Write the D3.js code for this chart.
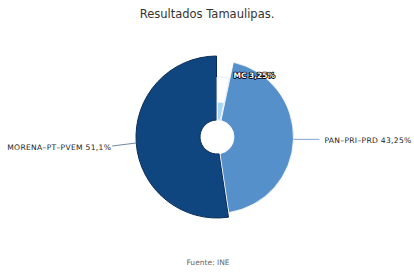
<!DOCTYPE html>
<html><head><meta charset="utf-8">
<script src="https://cdn.jsdelivr.net/npm/d3@7"></script>
<style>body{margin:0;background:#fff}svg{display:block}</style>
</head><body>
<script>
const categories = ["MC", "PAN-PRI-PRD", "MORENA-PT-PVEM"];
const labels = ["MC 3,25%", "PAN–PRI–PRD 43,25%", "MORENA–PT–PVEM 51,1%"];
const values = [3.25, 43.25, 51.1];
const radiusWeight = [35, 76.5, 81];
const colors = ["#a9d4f4", "#5590cb", "#0f467f"];
const title = "Resultados Tamaulipas.";
const source = "Fuente: INE";

const W = 414, H = 276, cx = 217, cy = 137;
const svg = d3.select("body").append("svg").attr("width", W).attr("height", H)
  .style("font-family", "'DejaVu Sans', Verdana, sans-serif");

svg.append("text").attr("x", 207).attr("y", 18).attr("text-anchor", "middle")
  .attr("font-size", 11.5).attr("fill", "#333").text(title);
svg.append("text").attr("x", 208).attr("y", 265).attr("text-anchor", "middle")
  .attr("font-size", 7.5).attr("fill", "#666").text(source);

const data = categories.map((c, i) => ({c, v: values[i], r: radiusWeight[i], col: colors[i], lab: labels[i]}));
const pie = d3.pie().sort(null).value(d => d.v);
const arcs = pie(data);
const g = svg.append("g").attr("transform", `translate(${cx},${cy})`);
const inner = 17;

g.selectAll("path.s").data(arcs).join("path").attr("class", "s")
  .attr("d", d => d3.arc().innerRadius(inner).outerRadius(d.data.r).padAngle(0.012)(d))
  .attr("fill", d => d.data.col)
  .attr("stroke", (d, i) => i === 2 ? "#0a2c57" : "#fff")
  .attr("stroke-width", (d, i) => i === 2 ? 1 : 0.8);

// faint outline of MC slice
g.append("path").attr("d", d3.arc().innerRadius(inner).outerRadius(60)(arcs[0]))
  .attr("fill", "none").attr("stroke", "#e3eef8").attr("stroke-width", 1);

// MC label
const mcC = d3.arc().innerRadius(62).outerRadius(62).centroid(arcs[0]);
svg.append("text").attr("x", cx + mcC[0] + 10).attr("y", cy + mcC[1] + 3)
  .attr("font-size", 7.5).attr("font-weight", "bold").attr("fill", "#fff")
  .attr("stroke", "#000").attr("stroke-width", 1.6).attr("paint-order", "stroke")
  .attr("stroke-linejoin", "round").text(labels[0]);

// outside labels with connectors
function outside(a, side) {
  const ang = (a.startAngle + a.endAngle) / 2;
  const r = a.data.r;
  const px = cx + r * Math.sin(ang), py = cy - r * Math.cos(ang);
  if (side === "right") {
    svg.append("line").attr("x1", px).attr("y1", py).attr("x2", px + 26).attr("y2", py)
      .attr("stroke", "#7fa6cf").attr("stroke-width", 1);
    svg.append("text").attr("x", px + 31).attr("y", py + 4).attr("font-size", 7.6)
      .attr("fill", "#222").attr("letter-spacing", 0.3).text(a.data.lab);
  } else {
    svg.append("line").attr("x1", px).attr("y1", py).attr("x2", px - 24).attr("y2", py + 3)
      .attr("stroke", "#6f86a3").attr("stroke-width", 1);
    svg.append("text").attr("x", px - 25).attr("y", py + 7).attr("text-anchor", "end")
      .attr("font-size", 7.6).attr("fill", "#222").attr("letter-spacing", 0.3).text(a.data.lab);
  }
}
outside(arcs[1], "right");
outside(arcs[2], "left");
</script>
</body></html>
